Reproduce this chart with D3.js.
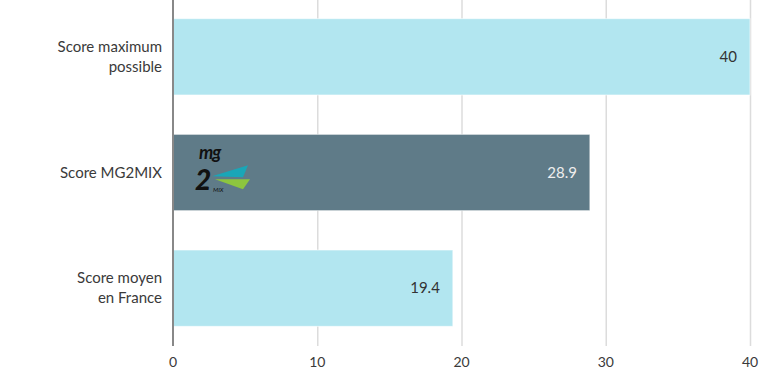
<!DOCTYPE html>
<html lang="fr">
<head>
  <meta charset="utf-8">
  <title>Score MG2MIX</title>
  <script src="https://cdn.jsdelivr.net/npm/d3@7"></script>
  <style>
  body { margin: 0; background: #fff; }
  svg text { font-family: Lato, "Open Sans", sans-serif; }
  .cat { fill: #3a3a3a; font-size: 15px; }
  .tick-label { fill: #3a3a3a; font-size: 14px; }
  </style>
</head>
<body>
  <script>
  // data
  var categories = ["Score maximum possible", "Score MG2MIX", "Score moyen en France"];
  var labelLines = [["Score maximum", "possible"], ["Score MG2MIX"], ["Score moyen", "en France"]];
  var values = [40, 28.9, 19.4];
  var barColors = ["#b2e6f0", "#5f7b88", "#b2e6f0"];
  var valueColors = ["#333333", "#eeeeee", "#333333"];
  var xTicks = [0, 10, 20, 30, 40];

  var width = 768;
  var height = 377;
  var left = 173, right = 750, plotH = 346;

  var svg = d3.select("body")
    .append("svg")
    .attr("width", width)
    .attr("height", height);

  var x = d3.scaleLinear().domain([0, 40]).range([left, right]);
  var y = d3.scaleBand()
    .domain(categories)
    .range([-1, plotH])
    .paddingInner(0.34)
    .paddingOuter(0.17);

  // grid
  var grid = svg.append("g");
  grid.selectAll("line")
    .data(xTicks.slice(1))
    .enter()
    .append("line")
    .attr("x1", d => x(d) + 0.5)
    .attr("x2", d => x(d) + 0.5)
    .attr("y1", 0)
    .attr("y2", plotH)
    .attr("stroke", "#dcdcdc")
    .attr("stroke-width", 1.5);

  // bars
  var bars = svg.append("g");
  bars.selectAll("rect")
    .data(categories)
    .enter()
    .append("rect")
    .attr("x", x(0))
    .attr("y", d => y(d))
    .attr("width", (d, i) => x(values[i]) - x(0))
    .attr("height", y.bandwidth())
    .attr("fill", (d, i) => barColors[i])
    .attr("stroke", "#ffffff")
    .attr("stroke-opacity", 0.6)
    .attr("stroke-width", 1);

  // value labels
  svg.append("g").selectAll("text")
    .data(categories)
    .enter()
    .append("text")
    .attr("x", (d, i) => x(values[i]) - 13)
    .attr("y", d => y(d) + y.bandwidth() / 2)
    .attr("dy", "0.35em")
    .attr("text-anchor", "end")
    .attr("font-size", 15)
    .attr("fill", (d, i) => valueColors[i])
    .text((d, i) => String(values[i]));

  // category labels
  var cats = svg.append("g");
  cats.selectAll("text")
    .data(categories)
    .enter()
    .append("text")
    .attr("class", "cat")
    .attr("text-anchor", "end")
    .attr("x", left - 11)
    .attr("y", (d, i) => y(d) + y.bandwidth() / 2 - (labelLines[i].length - 1) * 10)
    .each(function(d, i) {
      var t = d3.select(this);
      labelLines[i].forEach(function(line, j) {
        t.append("tspan")
          .attr("x", left - 11)
          .attr("dy", j === 0 ? "0.35em" : "20px")
          .text(line);
      });
    });

  // y axis line
  svg.append("line")
    .attr("x1", left).attr("x2", left)
    .attr("y1", 0).attr("y2", plotH)
    .attr("stroke", "#888")
    .attr("stroke-width", 2);

  // x tick labels
  svg.append("g").selectAll("text")
    .data(xTicks)
    .enter()
    .append("text")
    .attr("class", "tick-label")
    .attr("x", d => x(d))
    .attr("y", 367)
    .attr("text-anchor", "middle")
    .text(d => d);

  // mg2mix logo on the second bar
  var ly = y(categories[1]);
  var logo = svg.append("g").attr("transform", "translate(" + (left + 14) + "," + (ly + 14) + ")");
  logo.append("polygon")
    .attr("points", "25,28 61,17 56,29")
    .attr("fill", "#1aa6b7");
  logo.append("polygon")
    .attr("points", "28,31 63,31 56,41")
    .attr("fill", "#8dc63f");
  logo.append("text")
    .attr("x", 12).attr("y", 11)
    .attr("font-size", 18)
    .attr("font-weight", "bold")
    .attr("font-style", "italic")
    .attr("fill", "#111")
    .attr("letter-spacing", "-1")
    .text("mg");
  logo.append("text")
    .attr("x", 8).attr("y", 42)
    .attr("font-size", 28)
    .attr("font-weight", "900")
    .attr("font-style", "italic")
    .attr("fill", "#111")
    .text("2");
  logo.append("text")
    .attr("x", 26).attr("y", 44)
    .attr("font-size", 6)
    .attr("font-style", "italic")
    .attr("fill", "#111")
    .text("MIX");
  </script>
</body>
</html>
